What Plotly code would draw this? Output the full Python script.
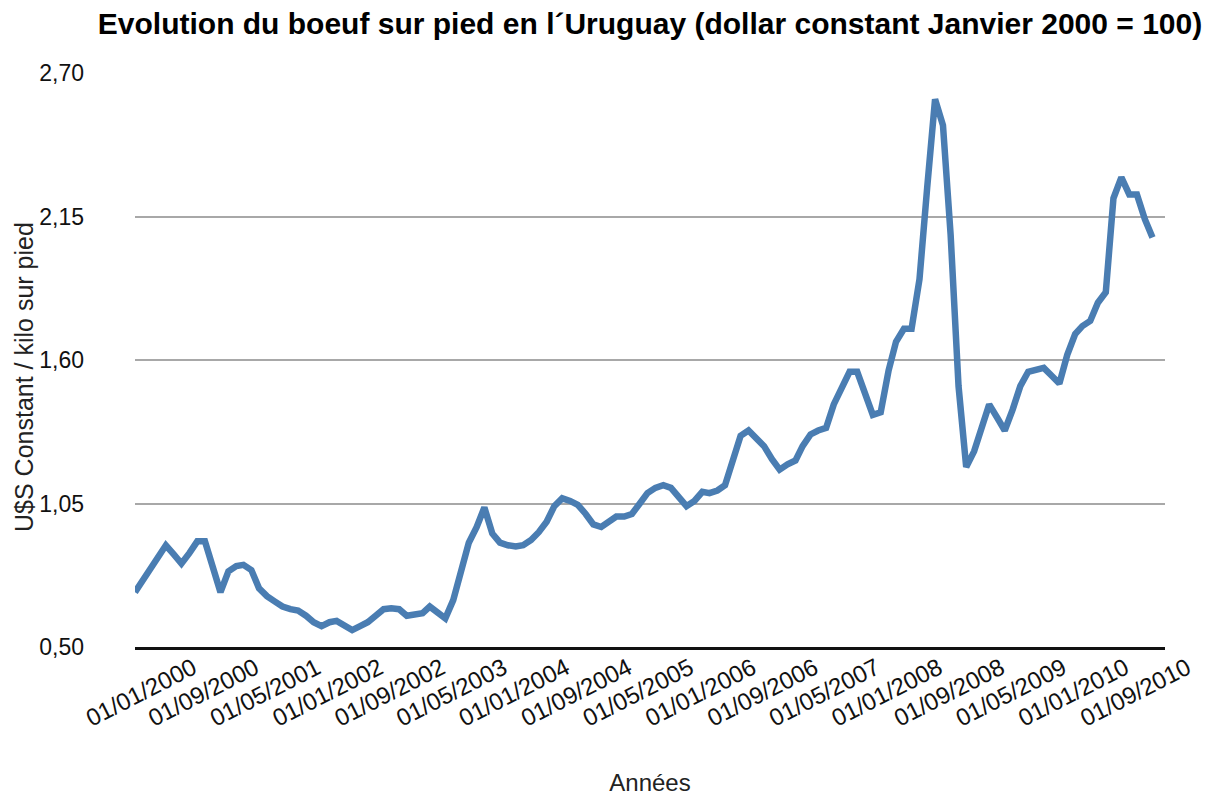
import pandas as pd
import plotly.graph_objects as go

# Monthly values, Jan 2000 .. Dec 2010 (U$S constant / kilo sur pied)
start_month = "2000-01-01"
n_months = 132
values = [
    0.71, 0.755, 0.80, 0.845, 0.89, 0.855, 0.82, 0.86, 0.905, 0.905, 0.81, 0.71,      # 2000
    0.79, 0.81, 0.815, 0.795, 0.725, 0.695, 0.675, 0.655, 0.645, 0.64, 0.62, 0.595,   # 2001
    0.58, 0.595, 0.60, 0.585, 0.565, 0.58, 0.595, 0.62, 0.645, 0.648, 0.645, 0.62,    # 2002
    0.625, 0.63, 0.655, 0.63, 0.61, 0.68, 0.79, 0.90, 0.96, 1.035, 0.935, 0.90,       # 2003
    0.89, 0.885, 0.89, 0.91, 0.94, 0.98, 1.04, 1.07, 1.06, 1.045, 1.01, 0.97,         # 2004
    0.96, 0.98, 1.00, 1.00, 1.01, 1.05, 1.09, 1.11, 1.12, 1.11, 1.07, 1.04,           # 2005
    1.06, 1.095, 1.09, 1.10, 1.12, 1.22, 1.31, 1.33, 1.30, 1.27, 1.22, 1.18,          # 2006
    1.20, 1.215, 1.27, 1.315, 1.33, 1.34, 1.43, 1.50, 1.555, 1.555, 1.47, 1.39,       # 2007
    1.40, 1.56, 1.67, 1.72, 1.72, 1.91, 2.26, 2.60, 2.50, 2.08, 1.50, 1.19,           # 2008
    1.25, 1.35, 1.43, 1.38, 1.33, 1.41, 1.50, 1.555, 1.56, 1.57, 1.54, 1.51,          # 2009
    1.62, 1.70, 1.73, 1.75, 1.82, 1.86, 2.22, 2.30, 2.235, 2.235, 2.14, 2.07,         # 2010
]
months = pd.date_range(start_month, periods=n_months, freq="MS")

y_ticks = [0.50, 1.05, 1.60, 2.15, 2.70]
title_text = "Evolution du boeuf sur pied en l´Uruguay (dollar constant Janvier 2000 = 100)"
y_title = "U$S Constant / kilo sur pied"
x_title = "Années"

FONT = "Liberation Sans, Arial, sans-serif"

# page body has an 8px margin, so the figure is sized/margined to compensate
W, H = 1221, 788
ML, MR, MT, MB = 127, 64, 65, 149

fig = go.Figure()
fig.add_trace(go.Scatter(
    x=months, y=values, mode="lines",
    line=dict(color="#4A7DB2", width=6.5),
    showlegend=False, hoverinfo="x+y",
))

fig.update_layout(
    width=W, height=H,
    margin=dict(l=ML, r=MR, t=MT, b=MB),
    paper_bgcolor="white", plot_bgcolor="white",
    separators=", ",
    font=dict(family=FONT, size=23, color="#111111"),
    title=dict(text="<b>" + title_text + "</b>", x=0.5, xref="paper", xanchor="center",
               y=1 - 15 / H, yref="container", yanchor="middle",
               font=dict(family=FONT, size=30, color="#000000")),
)

fig.update_xaxes(
    type="date",
    range=["2000-01-01", "2011-01-19"],
    tick0="2000-01-01", dtick="M8", tickformat="%d/%m/%Y",
    tickangle=-27, ticks="", showgrid=False,
    ticklabelshift=58, ticklabelstandoff=-5,
    showline=True, linecolor="#111111", linewidth=3,
    tickfont=dict(size=24, color="#111111"),
    title=dict(text=x_title, standoff=48, font=dict(size=24, color="#222222")),
    zeroline=False, automargin=False,
)

fig.update_yaxes(
    range=[0.5, 2.7005],
    tickvals=y_ticks, tickformat=".2f",
    showgrid=True, gridcolor="#A8A8A8", gridwidth=1.5,
    ticks="", ticklabelstandoff=50,
    showline=False, zeroline=False, automargin=False,
    tickfont=dict(size=23, color="#111111"),
)

# y-axis title placed to match the reference (sits close to the tick labels)
plot_w = W - ML - MR
plot_h = H - MT - MB
fig.add_annotation(
    text=y_title, textangle=-90, showarrow=False,
    xref="paper", yref="paper",
    x=(16 - ML) / plot_w, y=(plot_h - (377 - 8 - MT)) / plot_h,
    xanchor="center", yanchor="middle",
    font=dict(family=FONT, size=25, color="#222222"),
)

fig.write_html("out.html")
